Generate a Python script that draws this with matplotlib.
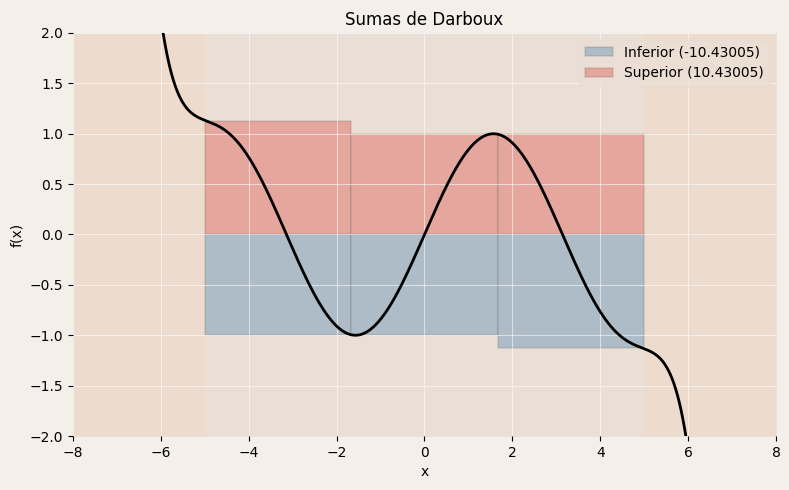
import numpy as np
import matplotlib
matplotlib.use("Agg")
import matplotlib.pyplot as plt

# partition and Darboux bar heights
edges = [-5.0, -1.6667, 1.6667, 5.0]
lower_vals = [-0.995, -1.0, -1.13]
upper_vals = [1.13, 1.0, 0.995]
sum_inf = -10.43005
sum_sup = 10.43005

# curve: f(x) = sin(x) - c * x**13
coef = 1.4311e-10
power = 13

x = np.linspace(-8, 8, 1200)
y = np.sin(x) - coef * x**power

fig = plt.figure(figsize=(7.89, 4.9), dpi=100, facecolor="#f5efea")
ax = fig.add_axes([0.0925, 0.1102, 0.891, 0.8225])
ax.set_facecolor("#ebdfd5")

# shaded regions outside the partition
ax.axvspan(-8, edges[0], color="#f0d8c4", alpha=0.45, lw=0, zorder=0)
ax.axvspan(edges[-1], 8, color="#f0d8c4", alpha=0.45, lw=0, zorder=0)

lefts = edges[:-1]
widths = np.diff(edges)
ax.bar(lefts, lower_vals, width=widths, align="edge", color="#adbcc6",
       edgecolor=(0.35, 0.35, 0.35, 0.15), lw=1.5, zorder=2,
       label=f"Inferior ({sum_inf})")
ax.bar(lefts, upper_vals, width=widths, align="edge", color="#e5a69d",
       edgecolor=(0.35, 0.35, 0.35, 0.15), lw=1.5, zorder=2,
       label=f"Superior ({sum_sup})")

ax.grid(True, color="white", alpha=0.55, lw=0.8, zorder=2.5)
ax.set_axisbelow(False)

ax.plot(x, y, color="black", lw=2, zorder=3)

ax.set_xlim(-8, 8)
ax.set_ylim(-2, 2)
ax.set_xticks(np.arange(-8, 9, 2))
ax.set_yticks(np.arange(-2, 2.01, 0.5))
ax.set_xlabel("x")
ax.set_ylabel("f(x)")
ax.set_title("Sumas de Darboux")
for s in ax.spines.values():
    s.set_color("#e6e2de")

leg = ax.legend(loc="upper right", facecolor="#ebdfd5", edgecolor="#e6ddd5", framealpha=0.8)
leg.set_zorder(5)

fig.savefig("out.png", dpi=100, facecolor=fig.get_facecolor())
